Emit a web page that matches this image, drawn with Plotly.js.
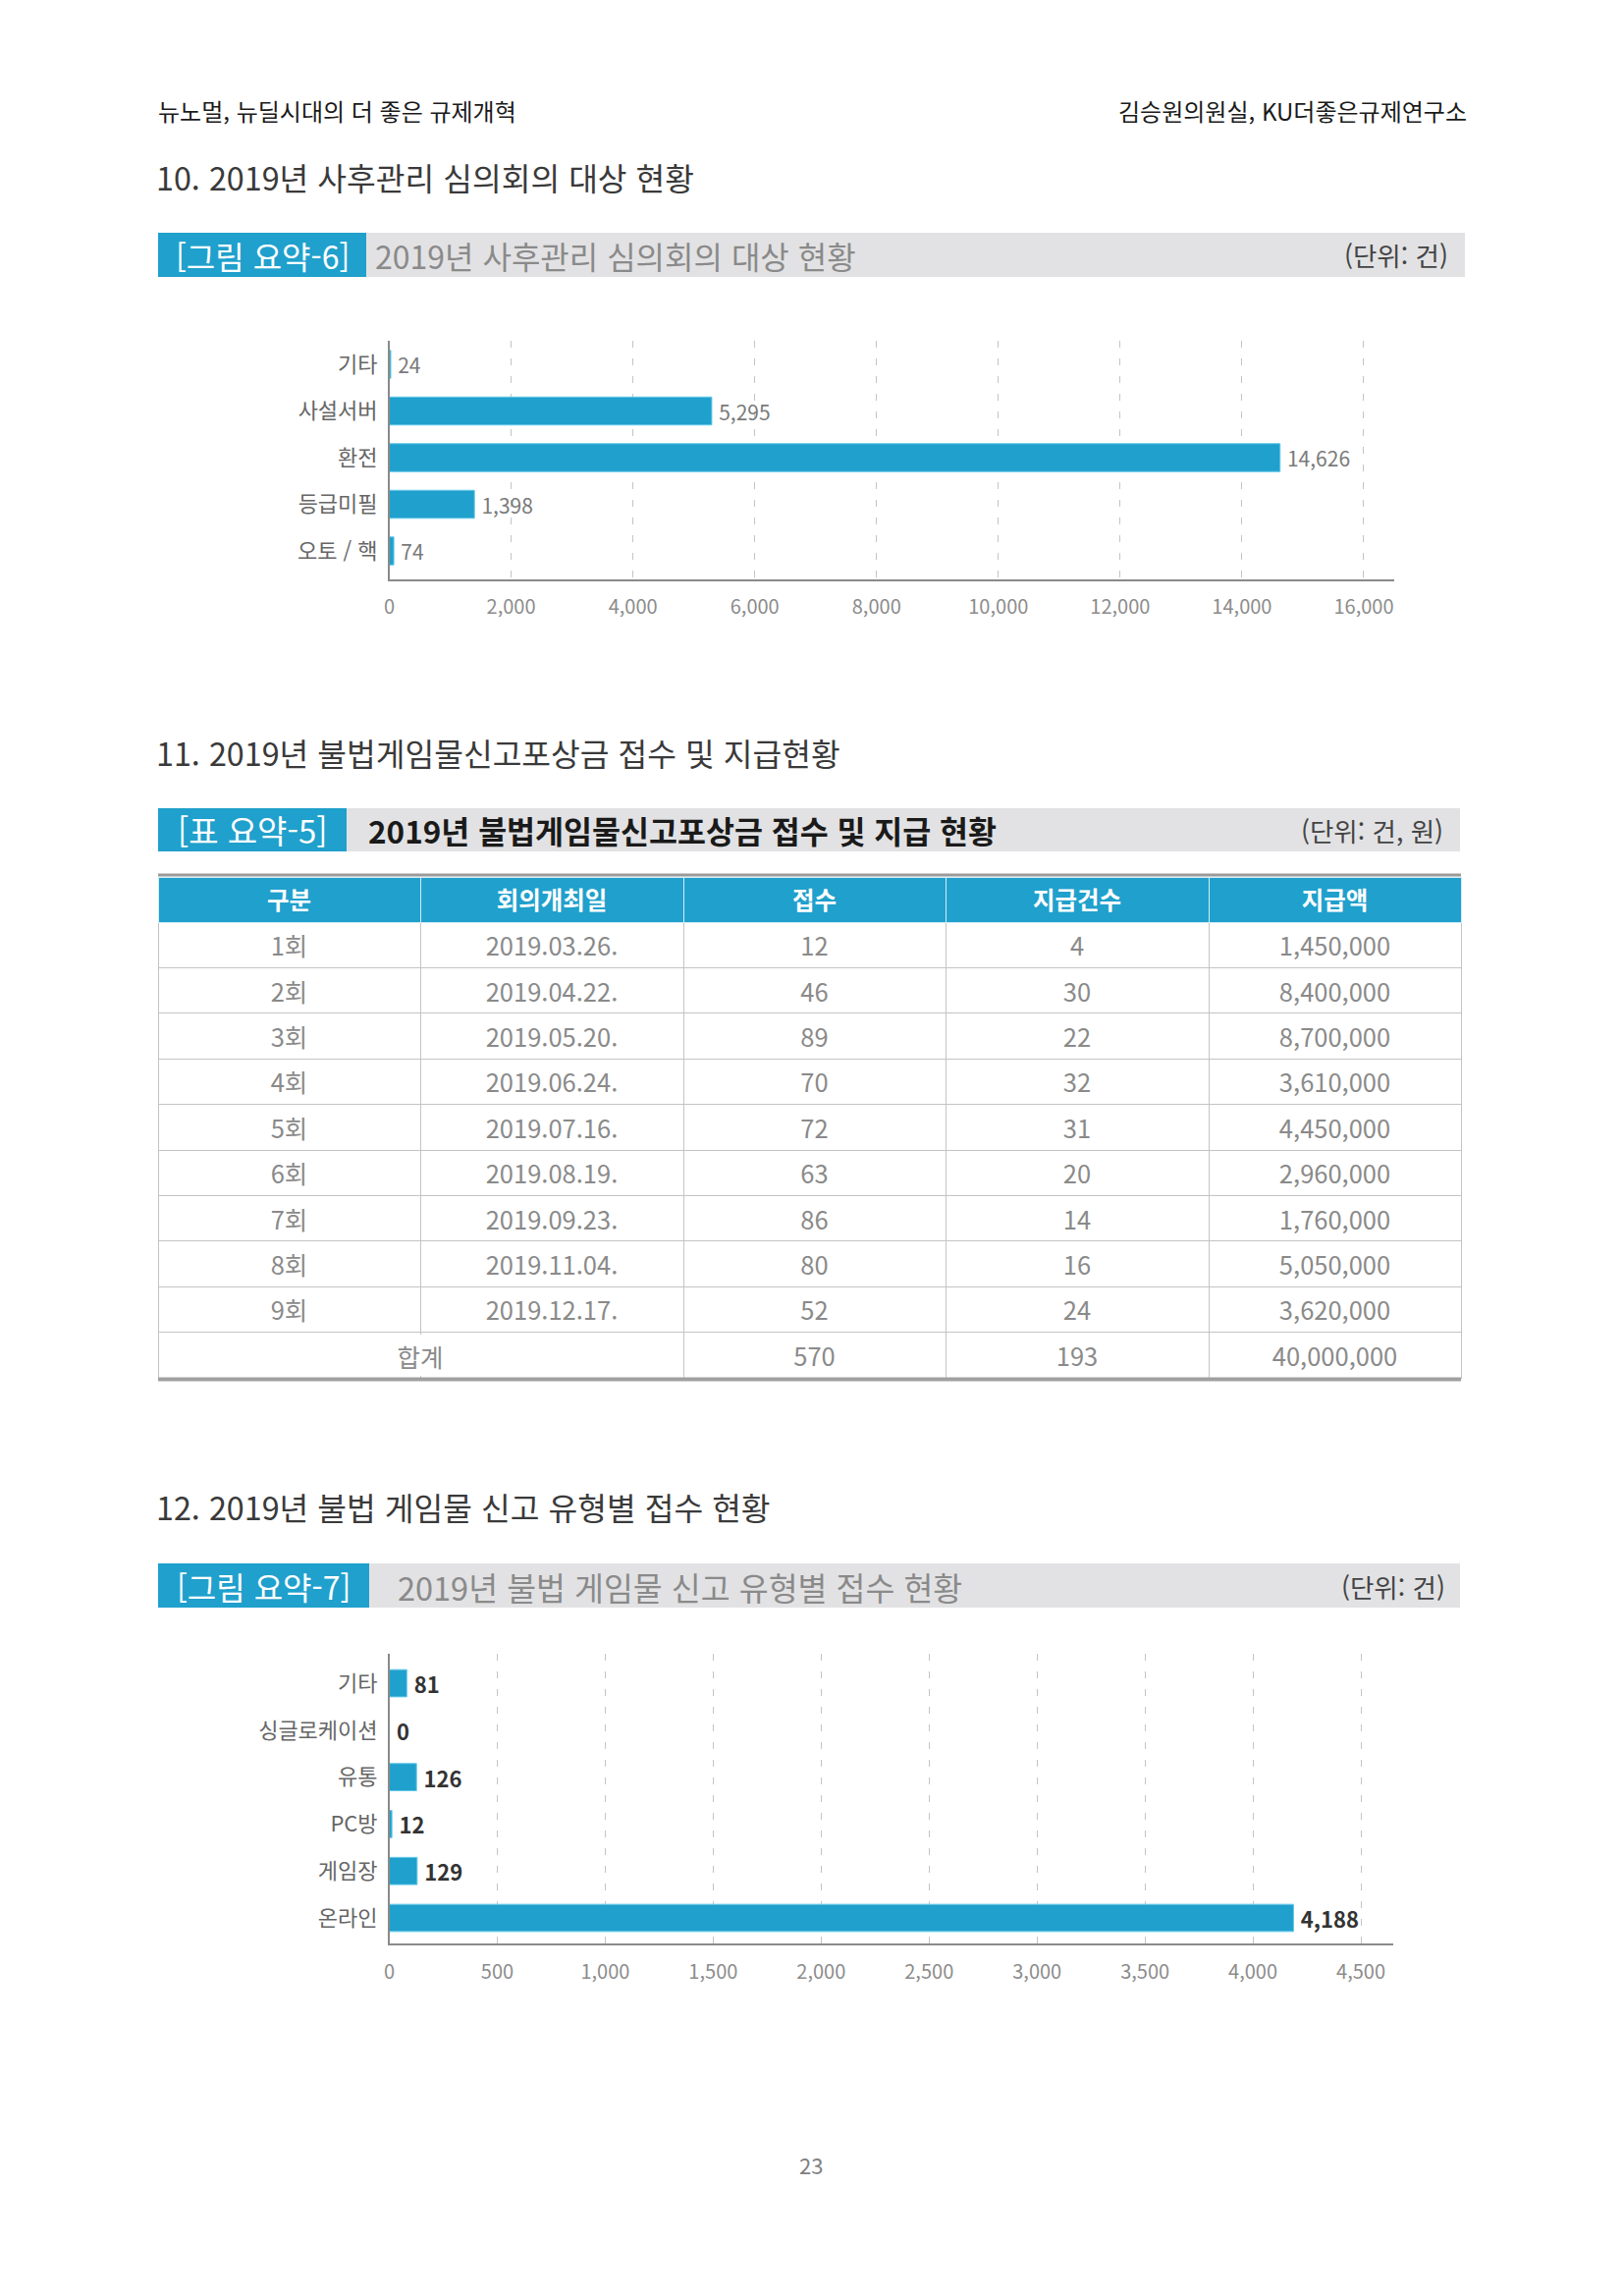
<!DOCTYPE html>
<html lang="ko">
<head>
<meta charset="utf-8">
<title>2019년 사후관리 및 불법게임물 신고 현황</title>
<script src="https://cdn.plot.ly/plotly-3.0.1.min.js"></script>
<style>
  html, body { margin: 0; padding: 0; background: #fff; }
  #page { width: 1653px; height: 2338px; }
  /* table text sits vertically centred in its row */
  #page .table .cell-text { translate: 0px 7px; }
</style>
</head>
<body>
<div id="page"></div>
<script>
// ---- 그림 요약-6: 2019년 사후관리 심의회의 대상 현황 (단위: 건)
const reviewCategories = ['기타', '사설서버', '환전', '등급미필', '오토 / 핵'];
const reviewCounts = [24, 5295, 14626, 1398, 74];
const reviewTicks = [0, 2000, 4000, 6000, 8000, 10000, 12000, 14000, 16000];

// ---- 표 요약-5: 2019년 불법게임물신고포상금 접수 및 지급 현황 (단위: 건, 원)
const tableHeader = ['구분', '회의개최일', '접수', '지급건수', '지급액'];
const rounds = ['1회', '2회', '3회', '4회', '5회', '6회', '7회', '8회', '9회'];
const meetingDates = ['2019.03.26.', '2019.04.22.', '2019.05.20.', '2019.06.24.', '2019.07.16.',
                      '2019.08.19.', '2019.09.23.', '2019.11.04.', '2019.12.17.'];
const received = [12, 46, 89, 70, 72, 63, 86, 80, 52];
const paidCount = [4, 30, 22, 32, 31, 20, 14, 16, 24];
const paidAmount = [1450000, 8400000, 8700000, 3610000, 4450000, 2960000, 1760000, 5050000, 3620000];
const totalLabel = '합계';
const totalReceived = 570;
const totalPaidCount = 193;
const totalPaidAmount = 40000000;

// ---- 그림 요약-7: 2019년 불법 게임물 신고 유형별 접수 현황 (단위: 건)
const reportTypes = ['기타', '싱글로케이션', '유통', 'PC방', '게임장', '온라인'];
const reportCounts = [81, 0, 126, 12, 129, 4188];
const reportTicks = [0, 500, 1000, 1500, 2000, 2500, 3000, 3500, 4000, 4500];

// ---- page geometry helpers (pixel -> paper fraction)
const W = 1653, H = 2338;
const px = x => x / W;
const py = y => 1 - y / H;

const FONT = "'Noto Sans CJK KR', 'Noto Sans', sans-serif";
const BLUE = '#20a0cc';
const BANNER_GREY = '#e2e2e4';
const fmt = v => v.toLocaleString('en-US');

// ---- traces
const reviewBars = {
  type: 'bar', orientation: 'h',
  x: reviewCounts, y: reviewCategories,
  xaxis: 'x', yaxis: 'y',
  width: 0.6,
  marker: { color: BLUE, line: { color: '#62c8ea', width: 1 } },
  texttemplate: '\u2009%{x:,}', textposition: 'outside', cliponaxis: false, constraintext: 'none',
  textfont: { family: FONT, size: 21, color: '#7a7a7a' },
  hoverinfo: 'skip'
};

const reportBars = {
  type: 'bar', orientation: 'h',
  x: reportCounts, y: reportTypes,
  xaxis: 'x2', yaxis: 'y2',
  width: 0.58,
  marker: { color: BLUE, line: { color: '#62c8ea', width: 1 } },
  texttemplate: '\u2009%{x:,}', textposition: 'outside', cliponaxis: false, constraintext: 'none',
  textfont: { family: FONT, size: 22, color: '#333333', weight: 'bold' },
  hoverinfo: 'skip'
};

const colRound = rounds.concat(['']);
const colDate = meetingDates.concat(['']);
const colReceived = received.concat([totalReceived]).map(fmt);
const colPaidCount = paidCount.concat([totalPaidCount]).map(fmt);
const colPaidAmount = paidAmount.concat([totalPaidAmount]).map(fmt);

const rewardTable = {
  type: 'table',
  domain: { x: [px(161), px(1488)], y: [py(1430), py(893)] },
  columnwidth: [267, 268, 267, 268, 257],
  header: {
    values: tableHeader,
    height: 46,
    align: 'center',
    fill: { color: BLUE },
    line: { color: '#d6eef6', width: 1 },
    font: { family: FONT, size: 24.5, color: '#ffffff', weight: 'bold' }
  },
  cells: {
    values: [colRound, colDate, colReceived, colPaidCount, colPaidAmount],
    height: 46.4,
    align: 'center',
    fill: { color: '#ffffff' },
    line: { color: '#c4c4c4', width: 1 },
    font: { family: FONT, size: 25.5, color: '#8a8a8a' }
  }
};

// ---- decorations: banners and table rules
function banner(y0, y1, x1, blueEnd) {
  return [
    { type: 'rect', xref: 'paper', yref: 'paper', x0: px(161), x1: px(x1), y0: py(y1), y1: py(y0),
      fillcolor: BANNER_GREY, line: { width: 0 }, layer: 'below' },
    { type: 'rect', xref: 'paper', yref: 'paper', x0: px(161), x1: px(blueEnd), y0: py(y1), y1: py(y0),
      fillcolor: BLUE, line: { width: 0 }, layer: 'below' }
  ];
}

const shapes = [].concat(
  banner(237, 282, 1492, 373),
  banner(823, 867, 1487, 353),
  banner(1592, 1637, 1487, 376),
  [
    { type: 'line', xref: 'paper', yref: 'paper', x0: px(161), x1: px(1488), y0: py(891), y1: py(891),
      line: { color: '#9a9a9a', width: 3 } },
    { type: 'line', xref: 'paper', yref: 'paper', x0: px(161), x1: px(1488), y0: py(1404.5), y1: py(1404.5),
      line: { color: '#a0a0a0', width: 4 } }
  ]
);

function label(text, x, y, opts) {
  return Object.assign({
    text: text, xref: 'paper', yref: 'paper', x: px(x), y: py(y),
    xanchor: 'left', yanchor: 'middle', showarrow: false,
    font: { family: FONT, size: 24, color: '#1a1a1a' }
  }, opts || {});
}

const titleFont = { family: FONT, size: 32.3, color: '#3a3a3a' };
const tagFont = { family: FONT, size: 32, color: '#ffffff' };
const captionFont = { family: FONT, size: 32, color: '#8a8a8a' };
const unitFont = { family: FONT, size: 26.5, color: '#444444' };

const annotations = [
  label('뉴노멀, 뉴딜시대의 더 좋은 규제개혁', 159, 112),
  label('김승원의원실, KU더좋은규제연구소', 1496, 112, { xanchor: 'right' }),

  label('10. 2019년 사후관리 심의회의 대상 현황', 157, 180, { font: titleFont }),
  label('[그림 요약-6]', 267, 260, { xanchor: 'center', font: tagFont }),
  label('2019년 사후관리 심의회의 대상 현황', 380, 260, { font: captionFont }),
  label('(단위: 건)', 1477, 260, { xanchor: 'right', font: unitFont }),

  label('11. 2019년 불법게임물신고포상금 접수 및 지급현황', 157, 766, { font: titleFont }),
  label('[표 요약-5]', 257, 845, { xanchor: 'center', font: Object.assign({}, tagFont, { size: 33 }) }),
  label('2019년 불법게임물신고포상금 접수 및 지급 현황', 373, 845,
        { font: { family: FONT, size: 31.5, color: '#1a1a1a', weight: 'bold' } }),
  label('(단위: 건, 원)', 1472, 845, { xanchor: 'right', font: unitFont }),

  label(totalLabel, 428, 1380, { xanchor: 'center', bgcolor: '#ffffff', height: 42, width: 90,
    borderpad: 0, borderwidth: 0, font: { family: FONT, size: 25.5, color: '#8a8a8a' } }),

  label('12. 2019년 불법 게임물 신고 유형별 접수 현황', 157, 1534, { font: titleFont }),
  label('[그림 요약-7]', 268, 1615, { xanchor: 'center', font: tagFont }),
  label('2019년 불법 게임물 신고 유형별 접수 현황', 403, 1615, { font: Object.assign({}, captionFont, { size: 32.5 }) }),
  label('(단위: 건)', 1474, 1615, { xanchor: 'right', font: unitFont }),

  label('23', 826, 2204, { xanchor: 'center', font: { family: FONT, size: 22, color: '#808080' } })
];

const gridStyle = { showgrid: true, gridcolor: '#c4c4c4', gridwidth: 1, griddash: '7px,11px' };
const tickFont = { family: FONT, size: 20, color: '#8c8c8c' };
const catFont = { family: FONT, size: 22, color: '#666666' };

const layout = {
  width: W, height: H,
  margin: { l: 0, r: 0, t: 0, b: 0, pad: 0 },
  paper_bgcolor: '#ffffff', plot_bgcolor: 'rgba(0,0,0,0)',
  showlegend: false,
  font: { family: FONT },
  xaxis: Object.assign({
    domain: [px(396.5), px(1420)], anchor: 'y', range: [0, 16500],
    tickvals: reviewTicks, tickformat: ',', ticks: '', ticklabelstandoff: 9,
    tickfont: tickFont,
    showline: true, linecolor: '#8a8a8a', linewidth: 2, zeroline: false, fixedrange: true
  }, gridStyle),
  yaxis: {
    domain: [py(589.5), py(347.25)], anchor: 'x', type: 'category',
    categoryorder: 'array', categoryarray: reviewCategories,
    range: [4.6, -0.5], ticks: '', ticklabelstandoff: 6,
    tickfont: catFont,
    showline: true, linecolor: '#8a8a8a', linewidth: 1.5, showgrid: false, zeroline: false, fixedrange: true
  },
  xaxis2: Object.assign({
    domain: [px(396.5), px(1419)], anchor: 'y2', range: [0, 4650],
    tickvals: reportTicks, tickformat: ',', ticks: '', ticklabelstandoff: 10,
    tickfont: tickFont,
    showline: true, linecolor: '#8a8a8a', linewidth: 2, zeroline: false, fixedrange: true
  }, gridStyle),
  yaxis2: {
    domain: [py(1979.3), py(1684.4)], anchor: 'x2', type: 'category',
    categoryorder: 'array', categoryarray: reportTypes,
    range: [5.55, -0.62], ticks: '', ticklabelstandoff: 6,
    tickfont: catFont,
    showline: true, linecolor: '#8a8a8a', linewidth: 1.5, showgrid: false, zeroline: false, fixedrange: true
  },
  shapes: shapes,
  annotations: annotations
};

Plotly.newPlot('page', [reviewBars, reportBars, rewardTable], layout, { displayModeBar: false, staticPlot: true });
</script>
</body>
</html>
